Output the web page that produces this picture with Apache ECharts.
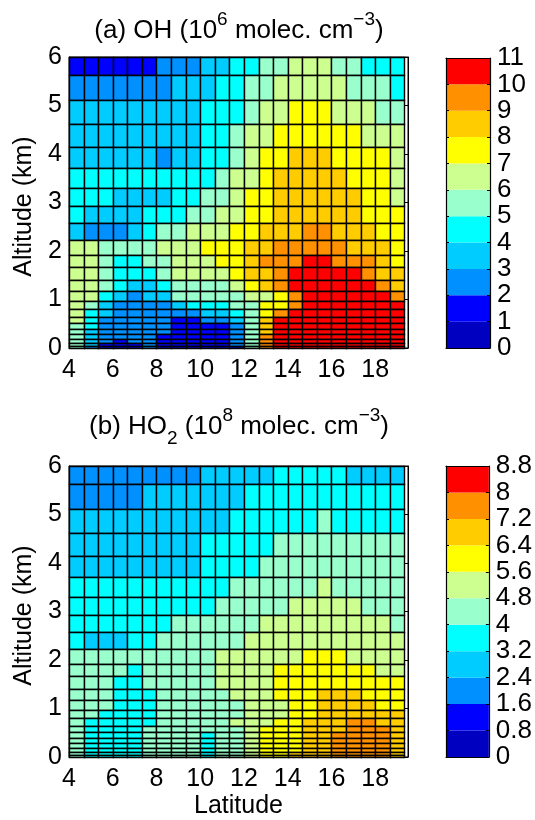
<!DOCTYPE html>
<html>
<head>
<meta charset="utf-8">
<title>OH and HO2</title>
<style>
  html, body { margin: 0; padding: 0; background: #fff; }
  #chart { width: 535px; height: 820px; }
</style>
<script src="https://cdn.jsdelivr.net/npm/echarts@6/dist/echarts.min.js"></script>
</head>
<body>
<div id="chart"></div>
<script>
// cell edges of the model grid
var latEdges = [4, 4.67, 5.33, 6, 6.67, 7.33, 8, 8.67, 9.33, 10, 10.67, 11.33, 12, 12.67, 13.33, 14, 14.67, 15.33, 16, 16.67, 17.33, 18, 18.67, 19.33];
var altEdges = [6, 5.63, 5.12, 4.62, 4.15, 3.72, 3.3, 2.92, 2.57, 2.23, 1.92, 1.66, 1.4, 1.18, 0.97, 0.8, 0.64, 0.51, 0.39, 0.28, 0.19, 0.11, 0.04, 0];

var latTicks = [4, 6, 8, 10, 12, 14, 16, 18];
var altTicks = [0, 1, 2, 3, 4, 5, 6];
var ohLevels = [0, 1, 2, 3, 4, 5, 6, 7, 8, 9, 10, 11];
var ho2Levels = [0, 0.8, 1.6, 2.4, 3.2, 4, 4.8, 5.6, 6.4, 7.2, 8, 8.8];
var palette = ['#0000c0', '#0000ff', '#0090ff', '#00ccff', '#00ffff', '#99ffcc', '#ccff8f', '#ffff00', '#ffcc00', '#ff9000', '#ff0000'];

// rows run from 6 km down to the surface
var ohValues = [
  [1.5,1.5,1.5,1.5,1.5,1.5,2.5,2.5,2.5,3.5,3.5,4.5,4.5,5.5,5.5,6.5,6.5,6.5,5.5,5.5,4.5,4.5,4.5],
  [2.5,2.5,2.5,2.5,2.5,2.5,2.5,3.5,3.5,3.5,4.5,4.5,5.5,5.5,6.5,6.5,6.5,6.5,6.5,5.5,5.5,5.5,4.5],
  [3.5,3.5,3.5,3.5,3.5,3.5,3.5,3.5,3.5,4.5,4.5,4.5,5.5,6.5,6.5,7.5,7.5,7.5,6.5,6.5,6.5,5.5,5.5],
  [3.5,3.5,3.5,3.5,3.5,3.5,3.5,3.5,3.5,4.5,4.5,5.5,6.5,6.5,7.5,7.5,7.5,7.5,7.5,7.5,6.5,6.5,6.5],
  [3.5,3.5,3.5,3.5,3.5,3.5,2.5,3.5,3.5,4.5,4.5,5.5,6.5,7.5,7.5,8.5,8.5,8.5,7.5,7.5,7.5,7.5,6.5],
  [4.5,4.5,4.5,4.5,4.5,4.5,4.5,4.5,4.5,4.5,5.5,6.5,6.5,7.5,8.5,8.5,8.5,8.5,8.5,7.5,7.5,7.5,6.5],
  [4.5,4.5,4.5,3.5,3.5,3.5,3.5,4.5,4.5,5.5,5.5,6.5,7.5,7.5,8.5,8.5,8.5,8.5,8.5,8.5,7.5,7.5,6.5],
  [4.5,3.5,3.5,3.5,3.5,4.5,4.5,4.5,5.5,5.5,6.5,6.5,7.5,7.5,8.5,8.5,8.5,8.5,8.5,8.5,7.5,7.5,7.5],
  [3.5,2.5,2.5,2.5,3.5,4.5,5.5,5.5,6.5,6.5,6.5,7.5,7.5,8.5,8.5,8.5,9.5,9.5,8.5,8.5,8.5,7.5,7.5],
  [6.5,6.5,5.5,5.5,5.5,5.5,6.5,6.5,6.5,7.5,7.5,7.5,8.5,8.5,9.5,9.5,9.5,9.5,9.5,8.5,8.5,8.5,7.5],
  [6.5,6.5,5.5,4.5,4.5,5.5,5.5,6.5,6.5,6.5,7.5,7.5,8.5,9.5,9.5,9.5,10.5,10.5,9.5,9.5,9.5,8.5,7.5],
  [6.5,6.5,5.5,4.5,4.5,4.5,5.5,6.5,6.5,6.5,6.5,7.5,8.5,8.5,9.5,10.5,10.5,10.5,10.5,10.5,9.5,8.5,8.5],
  [6.5,6.5,5.5,4.5,3.5,3.5,4.5,5.5,5.5,5.5,5.5,6.5,7.5,8.5,9.5,10.5,10.5,10.5,10.5,10.5,10.5,9.5,8.5],
  [6.5,6.5,4.5,3.5,2.5,3.5,3.5,5.5,5.5,5.5,5.5,5.5,6.5,6.5,7.5,9.5,10.5,10.5,10.5,10.5,10.5,10.5,9.5],
  [6.5,5.5,3.5,2.5,2.5,2.5,2.5,3.5,4.5,4.5,4.5,5.5,5.5,7.5,7.5,9.5,10.5,10.5,10.5,10.5,10.5,10.5,10.5],
  [6.5,4.5,3.5,2.5,2.5,2.5,2.5,2.5,2.5,3.5,3.5,4.5,5.5,7.5,9.5,10.5,10.5,10.5,10.5,10.5,10.5,10.5,10.5],
  [6.5,4.5,2.5,2.5,2.5,2.5,2.5,1.5,1.5,2.5,2.5,3.5,5.5,8.5,10.5,10.5,10.5,10.5,10.5,10.5,10.5,10.5,10.5],
  [5.5,4.5,2.5,2.5,2.5,2.5,2.5,1.5,1.5,1.5,1.5,2.5,5.5,8.5,10.5,10.5,10.5,10.5,10.5,10.5,10.5,10.5,10.5],
  [5.5,3.5,2.5,2.5,2.5,2.5,2.5,1.5,1.5,1.5,1.5,2.5,5.5,8.5,10.5,10.5,10.5,10.5,10.5,10.5,10.5,10.5,10.5],
  [5.5,3.5,2.5,2.5,2.5,2.5,1.5,1.5,1.5,1.5,1.5,2.5,5.5,9.5,10.5,10.5,10.5,10.5,10.5,10.5,10.5,10.5,10.5],
  [5.5,3.5,2.5,1.5,2.5,2.5,1.5,1.5,1.5,1.5,1.5,2.5,5.5,9.5,10.5,10.5,10.5,10.5,10.5,10.5,10.5,10.5,10.5],
  [5.5,3.5,1.5,1.5,1.5,2.5,1.5,1.5,1.5,1.5,1.5,2.5,5.5,9.5,10.5,10.5,10.5,10.5,10.5,10.5,10.5,10.5,10.5],
  [5.5,2.5,1.5,1.5,1.5,2.5,1.5,1.5,1.5,1.5,1.5,0.5,5.5,9.5,10.5,10.5,10.5,10.5,10.5,10.5,10.5,10.5,10.5]
];

var ho2Values = [
  [2,2,2,2,2,2,2,2,2,2.8,2.8,2.8,2.8,2.8,3.6,3.6,3.6,3.6,3.6,2.8,2.8,2.8,2.8],
  [2,2,2,2,2,2.8,2.8,2.8,2.8,2.8,2.8,2.8,3.6,3.6,3.6,3.6,3.6,3.6,3.6,3.6,3.6,3.6,3.6],
  [2.8,2.8,2.8,2.8,2.8,2.8,2.8,2.8,2.8,2.8,2.8,3.6,3.6,3.6,3.6,3.6,3.6,4.4,3.6,3.6,3.6,3.6,3.6],
  [2.8,2.8,2.8,2.8,2.8,2.8,2.8,2.8,2.8,3.6,3.6,3.6,3.6,3.6,4.4,4.4,4.4,4.4,4.4,4.4,4.4,4.4,4.4],
  [2.8,2.8,2.8,2.8,2.8,2.8,2.8,2.8,2.8,3.6,3.6,3.6,3.6,4.4,4.4,4.4,4.4,4.4,4.4,4.4,4.4,4.4,4.4],
  [3.6,3.6,3.6,3.6,3.6,3.6,3.6,3.6,3.6,3.6,3.6,4.4,4.4,4.4,4.4,4.4,4.4,5.2,4.4,4.4,4.4,4.4,4.4],
  [3.6,3.6,3.6,3.6,3.6,3.6,3.6,3.6,3.6,3.6,4.4,4.4,4.4,4.4,4.4,5.2,5.2,5.2,5.2,5.2,4.4,4.4,4.4],
  [3.6,3.6,3.6,3.6,3.6,3.6,3.6,4.4,4.4,4.4,4.4,4.4,4.4,5.2,5.2,5.2,5.2,5.2,5.2,5.2,5.2,5.2,4.4],
  [3.6,2.8,2.8,2.8,3.6,3.6,4.4,4.4,4.4,4.4,4.4,4.4,5.2,5.2,5.2,5.2,5.2,5.2,5.2,5.2,5.2,5.2,5.2],
  [4.4,4.4,4.4,4.4,4.4,4.4,4.4,4.4,4.4,4.4,5.2,5.2,5.2,5.2,5.2,5.2,6,6,6,5.2,5.2,5.2,5.2],
  [4.4,4.4,4.4,4.4,3.6,4.4,4.4,4.4,4.4,4.4,5.2,5.2,5.2,5.2,6,6,6,6,6,6,6,5.2,5.2],
  [4.4,4.4,4.4,3.6,3.6,4.4,4.4,4.4,4.4,4.4,5.2,5.2,5.2,5.2,6,6,6,6,6,6,6,6,6],
  [4.4,4.4,4.4,3.6,3.6,3.6,4.4,4.4,4.4,4.4,4.4,5.2,5.2,5.2,6,6,6,6.8,6.8,6.8,6,6,6],
  [4.4,4.4,4.4,3.6,3.6,3.6,4.4,4.4,4.4,4.4,4.4,4.4,5.2,5.2,5.2,6,6,6.8,6.8,6.8,6.8,6,6],
  [4.4,4.4,3.6,3.6,3.6,3.6,4.4,4.4,4.4,4.4,4.4,4.4,5.2,5.2,5.2,6,6,6.8,6.8,6.8,6.8,6.8,6.8],
  [4.4,3.6,3.6,3.6,3.6,3.6,4.4,4.4,4.4,4.4,4.4,5.2,5.2,5.2,6,6,6.8,6.8,6.8,7.6,7.6,6.8,6.8],
  [4.4,3.6,3.6,3.6,3.6,4.4,4.4,4.4,4.4,4.4,4.4,4.4,5.2,6,6,6,6.8,6.8,6.8,7.6,7.6,7.6,6.8],
  [4.4,3.6,3.6,3.6,3.6,4.4,4.4,4.4,4.4,3.6,4.4,4.4,5.2,6,6,6,6.8,6.8,7.6,7.6,7.6,7.6,6.8],
  [4.4,3.6,3.6,3.6,3.6,4.4,4.4,4.4,4.4,3.6,4.4,4.4,5.2,6,6,6,6.8,6.8,7.6,7.6,7.6,7.6,6.8],
  [4.4,3.6,3.6,3.6,3.6,4.4,4.4,4.4,4.4,3.6,4.4,4.4,5.2,6,6,6,6.8,6.8,7.6,7.6,7.6,7.6,6.8],
  [4.4,3.6,3.6,3.6,3.6,4.4,4.4,4.4,4.4,3.6,4.4,4.4,5.2,6,6,6,6.8,6.8,7.6,7.6,7.6,7.6,6.8],
  [4.4,3.6,3.6,3.6,3.6,4.4,4.4,4.4,4.4,3.6,4.4,4.4,5.2,6,6,6.8,6.8,6.8,7.6,7.6,7.6,7.6,6.8],
  [4.4,3.6,3.6,3.6,3.6,4.4,4.4,4.4,4.4,3.6,4.4,4.4,5.2,6,6,6.8,6.8,6.8,7.6,7.6,7.6,7.6,6.8]
];

var font = 'Liberation Sans';
var fontSize = 25;

function colorOf(value, levels) {
  for (var i = 0; i < palette.length; i++) {
    if (value < levels[i + 1]) return palette[i];
  }
  return palette[palette.length - 1];
}

// non uniform rows, so a custom series instead of a heatmap
function renderCell(params, api) {
  var p0 = api.coord([api.value(0), api.value(2)]);
  var p1 = api.coord([api.value(1), api.value(3)]);
  var x0 = Math.round(p0[0]) + 0.5, y0 = Math.round(p0[1]) + 0.5;
  var x1 = Math.round(p1[0]) + 0.5, y1 = Math.round(p1[1]) + 0.5;
  return {
    type: 'rect',
    shape: { x: x0, y: y0, width: x1 - x0, height: y1 - y0 },
    style: api.style({ stroke: '#000', lineWidth: 1.4 })
  };
}

function cellSeries(values, levels, axisIndex) {
  var data = [];
  values.forEach(function (row, r) {
    row.forEach(function (v, c) {
      data.push({
        value: [latEdges[c], latEdges[c + 1], altEdges[r], altEdges[r + 1], v],
        itemStyle: { color: colorOf(v, levels) }
      });
    });
  });
  return {
    type: 'custom',
    xAxisIndex: axisIndex,
    yAxisIndex: axisIndex,
    renderItem: renderCell,
    encode: { x: [0, 1], y: [2, 3] },
    clip: false,
    silent: true,
    data: data
  };
}

function renderBand(params, api) {
  var p0 = api.coord([0, api.value(0)]);
  var p1 = api.coord([1, api.value(1)]);
  return {
    type: 'rect',
    shape: { x: p0[0], y: p1[1], width: p1[0] - p0[0], height: p0[1] - p1[1] },
    style: api.style()
  };
}

function bandSeries(levels, axisIndex) {
  var data = [];
  for (var i = 0; i < palette.length; i++) {
    data.push({ value: [levels[i], levels[i + 1]], itemStyle: { color: palette[i] } });
  }
  return {
    type: 'custom',
    xAxisIndex: axisIndex,
    yAxisIndex: axisIndex,
    renderItem: renderBand,
    encode: { y: [0, 1] },
    silent: true,
    data: data
  };
}

var lineStyle = { color: '#000', width: 1 };
var labelStyle = { color: '#000', fontFamily: font, fontSize: fontSize };

function plotX(gridIndex, name) {
  return {
    type: 'value', gridIndex: gridIndex, min: 4, max: 19.5,
    name: name, nameLocation: 'middle', nameGap: 37,
    nameTextStyle: labelStyle,
    splitLine: { show: false },
    axisLine: { onZero: false, lineStyle: lineStyle },
    axisTick: { inside: true, length: 4, lineStyle: lineStyle, customValues: latTicks },
    axisLabel: Object.assign({ margin: 10, customValues: latTicks }, labelStyle)
  };
}

function plotY(gridIndex) {
  return {
    type: 'value', gridIndex: gridIndex, min: 0, max: 6, interval: 1,
    name: 'Altitude (km)', nameLocation: 'middle', nameGap: 32,
    nameTextStyle: Object.assign({ padding: [0, 8, 0, 0] }, labelStyle),
    splitLine: { show: false },
    axisLine: { onZero: false, lineStyle: lineStyle },
    axisTick: { inside: true, length: 4, lineStyle: lineStyle },
    axisLabel: Object.assign({ margin: 7, padding: [7, 0, 0, 0], customValues: altTicks }, labelStyle)
  };
}

function plotYRight(gridIndex) {
  return {
    type: 'value', gridIndex: gridIndex, min: 0, max: 6, interval: 1, position: 'right',
    splitLine: { show: false },
    axisLine: { onZero: false, lineStyle: lineStyle },
    axisTick: { inside: true, length: 4, lineStyle: lineStyle },
    axisLabel: { show: false }
  };
}

// colour bar frame: position picks the bottom or top edge
function barX(gridIndex, position) {
  return {
    type: 'value', gridIndex: gridIndex, min: 0, max: 1, position: position, z: 5,
    splitLine: { show: false },
    axisLine: { onZero: false, lineStyle: { color: '#000', width: 1.2 } },
    axisTick: { show: false }, axisLabel: { show: false }
  };
}

function barY(gridIndex, levels, showLabel) {
  return {
    type: 'value', gridIndex: gridIndex, min: 0, max: levels[levels.length - 1],
    position: showLabel ? 'right' : 'left', z: 5,
    splitLine: { show: false },
    axisLine: { onZero: false, lineStyle: { color: '#000', width: 1.2 } },
    axisTick: { inside: true, length: 3, lineStyle: lineStyle, customValues: levels },
    axisLabel: Object.assign({ show: showLabel, margin: 7, padding: [8, 0, 0, 0], customValues: levels }, labelStyle, { fontSize: 26 })
  };
}

function titleOf(text, top) {
  return {
    text: text, left: 234, top: top, textAlign: 'center',
    textStyle: {
      rich: {
        t: { fontFamily: font, fontSize: 26, fontWeight: 'normal', color: '#000', lineHeight: 42, verticalAlign: 'middle' },
        up: { fontFamily: font, fontSize: 19, fontWeight: 'normal', color: '#000', lineHeight: 42, verticalAlign: 'top' },
        dn: { fontFamily: font, fontSize: 19, fontWeight: 'normal', color: '#000', lineHeight: 42, verticalAlign: 'bottom' }
      }
    }
  };
}

var chart = echarts.init(document.getElementById('chart'));
chart.setOption({
  animation: false,
  backgroundColor: '#fff',
  title: [
    titleOf('{t|(a) OH (10}{up|6}{t| molec. cm}{up|−3}{t|)}', 5),
    titleOf('{t|(b) HO}{dn|2}{t| (10}{up|8}{t| molec. cm}{up|−3}{t|)}', 401)
  ],
  grid: [
    { left: 69, width: 339, top: 57, height: 291, show: true, borderColor: '#000', borderWidth: 1 },
    { left: 446, width: 44, top: 58, height: 290 },
    { left: 69, width: 339, top: 466, height: 292, show: true, borderColor: '#000', borderWidth: 1 },
    { left: 446, width: 44, top: 466, height: 291 }
  ],
  xAxis: [plotX(0), barX(1, 'bottom'), plotX(2, 'Latitude'), barX(3, 'bottom'), barX(1, 'top'), barX(3, 'top')],
  yAxis: [plotY(0), barY(1, ohLevels, true), plotY(2), barY(3, ho2Levels, true),
    plotYRight(0), barY(1, ohLevels, false), plotYRight(2), barY(3, ho2Levels, false)],
  series: [
    cellSeries(ohValues, ohLevels, 0),
    bandSeries(ohLevels, 1),
    cellSeries(ho2Values, ho2Levels, 2),
    bandSeries(ho2Levels, 3)
  ]
});
</script>
</body>
</html>
